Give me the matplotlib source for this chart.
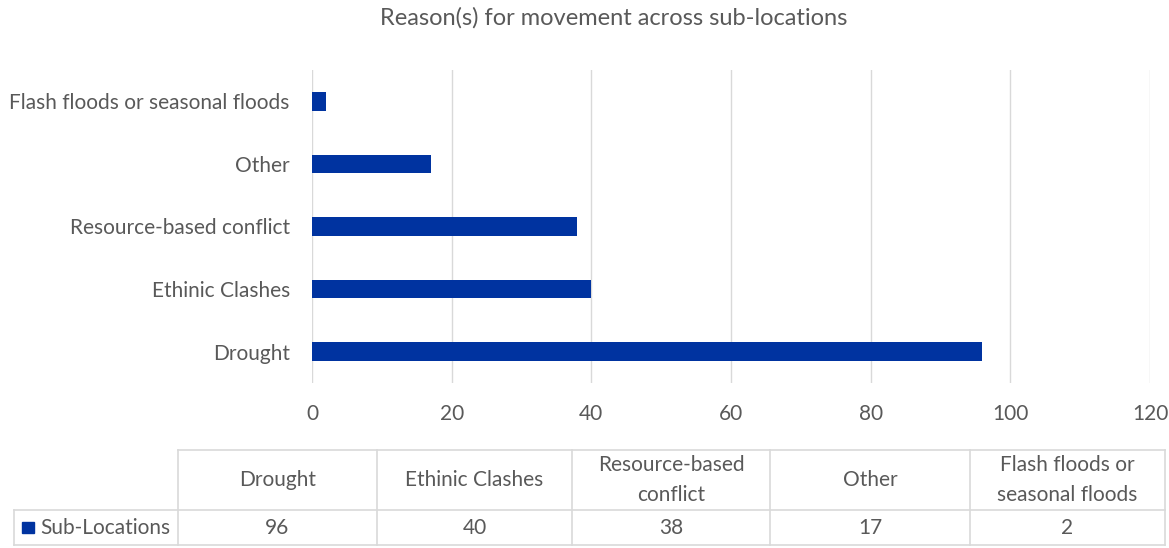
import matplotlib.pyplot as plt
from matplotlib.lines import Line2D
from matplotlib.patches import Rectangle

plt.rcParams['font.family'] = ['Lato', 'DejaVu Sans']

# reasons, bottom to top on the chart
reasons = ['Drought', 'Ethinic Clashes', 'Resource-based conflict', 'Other',
           'Flash floods or seasonal floods']
table_heads = ['Drought', 'Ethinic Clashes', 'Resource-based\nconflict', 'Other',
               'Flash floods or\nseasonal floods']
counts = [96, 40, 38, 17, 2]
series_name = 'Sub-Locations'

blue = '#0033a0'
grey_text = '#595959'
grid_col = '#d9d9d9'
fs = 15

W, H = 1169, 548
fig = plt.figure(figsize=(W / 100, H / 100), dpi=100)

ax = fig.add_axes([312 / W, 1 - 383 / H, (1150 - 312) / W, (383 - 70) / H])
ax.barh(range(len(reasons)), counts, height=0.3, color=blue, zorder=3)
ax.set_xlim(0, 120)
ax.set_ylim(-0.5, len(reasons) - 0.5)
ax.set_xticks(range(0, 121, 20))
ax.set_yticks(range(len(reasons)))
ax.set_yticklabels(reasons)
ax.grid(axis='x', color=grid_col, linewidth=1, zorder=0)
for s in ax.spines.values():
    s.set_visible(False)
ax.tick_params(axis='both', length=0, labelsize=fs, colors=grey_text)
ax.tick_params(axis='x', pad=15)
ax.tick_params(axis='y', pad=16)

fig.text(614 / W, 1 - 18 / H, 'Reason(s) for movement across sub-locations',
         ha='center', va='center', fontsize=17, color=grey_text)

# data table under the chart, laid out in pixel units
def fx(px):
    return px / W

def fy(py):
    return 1 - py / H

def hline(x0, x1, y):
    fig.add_artist(Line2D([fx(x0), fx(x1)], [fy(y), fy(y)], color=grid_col, lw=1.2))

def vline(x, y0, y1):
    fig.add_artist(Line2D([fx(x), fx(x)], [fy(y0), fy(y1)], color=grid_col, lw=1.2))

col_edges = [178, 377, 572, 770, 970, 1165]
top, mid, bot = 450, 510, 545
hline(col_edges[0], col_edges[-1], top)
hline(14, col_edges[-1], mid)
hline(14, col_edges[-1], bot)
vline(14, mid, bot)
for x in col_edges:
    vline(x, top, bot)

for i, (head, val) in enumerate(zip(table_heads, counts)):
    cx = (col_edges[i] + col_edges[i + 1]) / 2
    fig.text(fx(cx), fy((top + mid) / 2), head, ha='center', va='center',
             fontsize=fs, color=grey_text, linespacing=1.6)
    fig.text(fx(cx), fy((mid + bot) / 2), str(val), ha='center', va='center',
             fontsize=fs, color=grey_text)

fig.add_artist(Rectangle((fx(22), fy(533)), fx(12), 11 / H, color=blue,
                         transform=fig.transFigure))
fig.text(fx(40), fy((mid + bot) / 2), series_name, ha='left', va='center',
         fontsize=fs, color=grey_text)

fig.savefig('out.png', dpi=100, facecolor='white')
